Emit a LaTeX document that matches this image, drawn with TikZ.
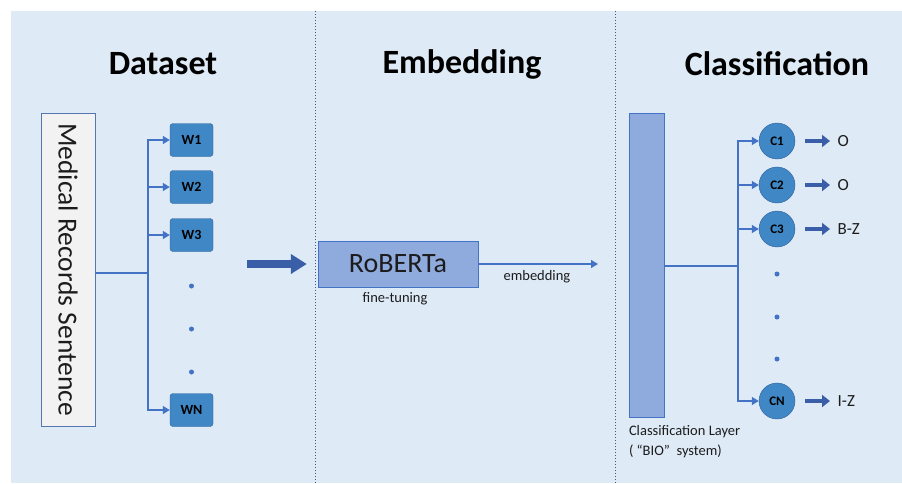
\documentclass[tikz,border=0pt]{standalone}
\usepackage{fontspec}
\setmainfont{Carlito}
\usetikzlibrary{arrows.meta,positioning}

\definecolor{panelbg}{HTML}{DEEAF6}
\definecolor{wfill}{HTML}{3F87C5}
\definecolor{wedge}{HTML}{2F5F9A}
\definecolor{lineblue}{HTML}{4472C4}
\definecolor{lightbar}{HTML}{8FAADC}
\definecolor{darkarrow}{HTML}{3A5FA8}
\definecolor{divider}{HTML}{3C5A7A}
\definecolor{inkgray}{HTML}{1C1C1C}

\tikzset{
  title/.style={font=\fontsize{34}{40}\selectfont\bfseries, text=black},
  wbox/.style={draw=wedge, fill=wfill, rounded corners=3pt, minimum width=43pt,
    minimum height=33pt, inner sep=0pt, font=\fontsize{14}{16}\selectfont\bfseries},
  cnode/.style={circle, draw=wedge, fill=wfill, minimum size=36pt, inner sep=0pt,
    font=\fontsize{13}{15}\selectfont\bfseries},
  layerbox/.style={draw=lineblue, fill=lightbar, inner sep=0pt},
  link/.style={lineblue, line width=1.3pt},
  tip/.style={link, -{Triangle[length=7pt,width=8pt]}},
  fattip/.style={darkarrow, line width=4pt, -{Triangle[length=8pt,width=12pt]}},
  dotmark/.style={circle, fill=lineblue, inner sep=0pt, minimum size=5pt},
  smalltext/.style={font=\fontsize{14.5}{20}\selectfont, text=inkgray},
  tagtext/.style={font=\fontsize{17}{20}\selectfont, text=inkgray, anchor=west},
}

\begin{document}
\begin{tikzpicture}[x=1pt,y=-1pt]

\useasboundingbox (0,0) rectangle (902,483);
% panel and dividers
\fill[panelbg] (11,11) rectangle (902,483);
\foreach \xdiv in {315,615}{
  \draw[divider, dotted, line width=1pt] (\xdiv,11) -- (\xdiv,483);
}

% titles
\node[title] (tdata)  at (163,64) {Dataset};
\node[title] (temb)   at (462,64) {Embedding};
\node[title] (tclass) at (777,64) {Classification};

% dataset
\node[draw=lineblue!70!gray, fill=black!5, rotate=-90, minimum width=313pt,
  minimum height=54pt, inner sep=0pt, font=\fontsize{27.5}{30}\selectfont, text=inkgray]
  (med) at (68,269.5) {Medical Records Sentence};

\coordinate (wsplit) at (148,273);
\draw[link] (med.north |- wsplit) -- (wsplit);

\foreach \name/\lab/\ypos in {w1/W1/140, w2/W2/187, w3/W3/235, wn/WN/410}{
  \node[wbox] (\name) at (191.5,\ypos) {\lab};
  \draw[tip] (wsplit) |- (\name.west);
}
\foreach \ypos [count=\k] in {286,329,372}{
  \node[dotmark] (wdot\k) at (191.5,\ypos) {};
}

% embedding
\node[layerbox, minimum width=160pt, minimum height=46pt,
  font=\fontsize{28}{32}\selectfont, text=inkgray] (rob) at (398,264) {RoBERTa};
\node[smalltext, below=2pt of rob, xshift=-3pt] (tune) {fine-tuning};

\coordinate (feed) at (247,264);
\draw[darkarrow, line width=8pt, -{Triangle[length=16pt,width=19pt]}, shorten >=11pt]
  (feed) -- (rob.west);

\coordinate (embout) at (598,264);
\draw[tip] (rob.east) -- node[smalltext, below=2pt, pos=0.49] (embtxt) {embedding} (embout);

% classification
\node[layerbox, minimum width=35pt, minimum height=304pt] (clsbar) at (646.5,265) {};
\node[smalltext, anchor=north west, align=left, inner sep=0pt] (clslab)
  at ([yshift=-8pt]clsbar.south west) {Classification Layer\\( “BIO”\ \ system)};

\coordinate (csplit) at (738,266);
\draw[link] (clsbar.east |- csplit) -- (csplit);

\foreach \name/\lab/\ypos/\tag in {c1/C1/141/O, c2/C2/185/O, c3/C3/229/B-Z, cn/CN/401/I-Z}{
  \node[cnode] (\name) at (777,\ypos) {\lab};
  \draw[tip] (csplit) |- (\name.west);
  \node[tagtext] (\name tag) at (834,\ypos) {\tag};
  \draw[fattip, shorten <=10pt, shorten >=4pt] (\name.east) -- (\name tag.west);
}
\foreach \ypos [count=\k] in {274,317,359}{
  \node[dotmark] (cdot\k) at (777,\ypos) {};
}

\end{tikzpicture}
\end{document}
